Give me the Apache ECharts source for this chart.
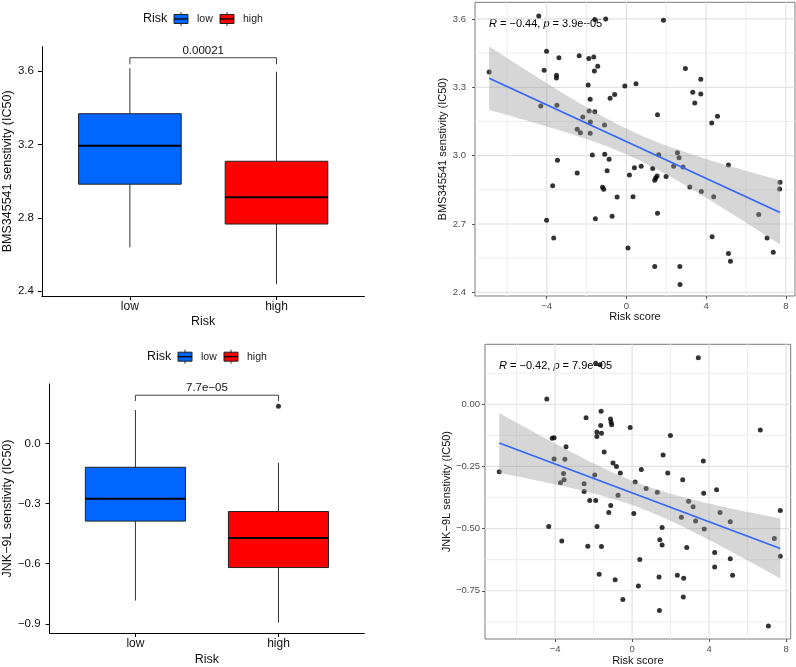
<!DOCTYPE html>
<html><head><meta charset="utf-8">
<script src="https://cdn.jsdelivr.net/npm/echarts@6/dist/echarts.min.js"></script>
<style>html,body{margin:0;padding:0;background:#fff}#c{width:796px;height:667px}</style>
</head><body><div id="c"></div>
<script>
// ---------------- DATA ----------------
const categories = ['low', 'high'];
const boxColors = ['#0066FF', '#FF0000'];
// [min, q1, median, q3, max]
const bmsBoxLow  = [2.639, 2.983, 3.193, 3.367, 3.615];
const bmsBoxHigh = [2.438, 2.766, 2.912, 3.108, 3.596];
const jnkBoxLow  = [-0.784, -0.387, -0.275, -0.118, 0.168];
const jnkBoxHigh = [-0.894, -0.619, -0.472, -0.339, -0.095];
const jnkHighOutliers = [0.187];
const pLabels = ['0.00021', '7.7e\u221205'];
const bracketBms = [3.672, 3.636];
const bracketJnk = [0.242, 0.213];

const bmsBoxTicks = [2.4, 2.8, 3.2, 3.6];
const jnkBoxTicks = [-0.9, -0.6, -0.3, 0.0];
const riskTicks = [-4, 0, 4, 8];
const riskMinor = [-6, -2, 2, 6];
const bmsScatterTicks = [2.4, 2.7, 3.0, 3.3, 3.6];
const bmsScatterMinor = [2.55, 2.85, 3.15, 3.45];
const jnkScatterTicks = [-0.75, -0.5, -0.25, 0];
const jnkScatterMinor = [-0.875, -0.625, -0.375, -0.125, 0.125];

const corrR = ['\u22120.44', '\u22120.42'];
const corrP = ['3.9e\u221205', '7.9e\u221205'];

const riskScore1 = [-6.89,-4.40,-4.30,-4.13,-4.01,-4.01,-3.70,-3.65,-3.51,-3.51,-3.49,-3.46,-3.39,-2.47,-2.47,-2.37,-2.31,-2.19,-1.92,-1.89,-1.87,-1.82,-1.81,-1.82,-1.71,-1.59,-1.64,-1.61,-1.59,-1.56,-1.44,-1.20,-1.14,-1.10,-1.09,-1.04,-0.97,-0.87,-0.82,-0.72,-0.59,-0.47,-0.08,0.08,0.15,0.33,0.40,0.48,0.74,1.32,1.42,1.42,1.47,1.54,1.56,1.56,1.62,1.86,1.99,2.37,2.56,2.64,2.68,2.69,2.84,2.96,3.18,3.33,3.43,3.73,3.73,3.76,4.28,4.30,4.38,4.57,5.12,5.12,5.22,6.64,7.06,7.37,7.71,7.69];
const bmsIC50 = [3.367,3.613,3.218,3.375,3.458,2.716,2.868,2.639,3.353,3.341,3.221,2.980,3.430,3.116,2.924,3.438,3.101,3.170,3.310,3.426,3.196,3.247,3.148,3.098,3.003,3.597,3.433,3.372,3.193,2.723,3.392,2.861,2.852,3.135,3.006,3.600,2.934,2.984,3.252,2.734,3.268,2.819,3.306,2.595,2.915,2.820,2.947,3.315,2.953,2.944,2.892,2.513,2.902,2.911,2.747,3.180,3.004,3.594,2.909,2.953,3.013,2.991,2.514,2.434,2.950,3.383,2.862,3.278,3.231,3.335,3.271,2.843,3.143,2.644,2.820,3.173,2.959,2.570,2.536,2.742,2.639,2.576,2.883,2.854];

const riskScore2 = [-6.90,-4.43,-4.33,-4.15,-4.05,-4.05,-3.65,-3.72,-3.56,-3.53,-3.49,-3.43,-2.49,-2.49,-2.39,-2.30,-2.20,-1.94,-1.89,-1.89,-1.83,-1.83,-1.82,-1.71,-1.66,-1.63,-1.61,-1.59,-1.59,-1.45,-1.21,-1.12,-1.11,-1.09,-1.06,-0.99,-0.88,-0.81,-0.73,-0.61,-0.48,-0.10,0.09,0.16,0.33,0.40,0.48,0.73,1.31,1.40,1.42,1.44,1.56,1.56,1.61,1.85,1.99,2.35,2.56,2.63,2.68,2.66,2.84,2.94,3.17,3.30,3.44,3.72,3.70,3.75,4.29,4.29,4.39,4.57,5.10,5.10,5.22,6.66,7.08,7.39,7.70,7.70];
const jnkIC50 = [-0.271,0.021,-0.492,-0.137,-0.135,-0.220,-0.550,-0.316,-0.279,-0.304,-0.221,-0.171,-0.320,-0.351,-0.054,-0.571,-0.387,-0.285,-0.387,0.165,-0.112,-0.130,-0.492,-0.684,0.159,-0.086,-0.028,-0.117,-0.572,-0.192,-0.435,-0.059,-0.407,-0.072,-0.082,-0.236,-0.706,-0.250,-0.366,-0.277,-0.785,-0.094,-0.439,-0.313,-0.731,-0.624,-0.262,-0.339,-0.354,-0.695,-0.829,-0.545,-0.566,-0.496,-0.204,-0.277,-0.126,-0.688,-0.454,-0.304,-0.700,-0.775,-0.576,-0.390,-0.412,-0.470,0.187,-0.358,-0.228,-0.502,-0.596,-0.654,-0.344,-0.435,-0.473,-0.621,-0.688,-0.104,-0.892,-0.540,-0.427,-0.611];

// ---------------- HELPERS ----------------
const FONT = '"Liberation Sans", Arial, Helvetica, sans-serif';
const MINUS = '\u2212';
const fmt = (v, d) => (v < -1e-9 ? MINUS : '') + Math.abs(v).toFixed(d);

function linFit(xs, ys) {
  const n = xs.length;
  const xbar = xs.reduce((a, b) => a + b, 0) / n;
  const ybar = ys.reduce((a, b) => a + b, 0) / n;
  let sxx = 0, sxy = 0;
  for (let i = 0; i < n; i++) { sxx += (xs[i] - xbar) ** 2; sxy += (xs[i] - xbar) * (ys[i] - ybar); }
  const b = sxy / sxx, a = ybar - b * xbar;
  let sse = 0;
  for (let i = 0; i < n; i++) sse += (ys[i] - a - b * xs[i]) ** 2;
  return { a, b, n, xbar, sxx, s: Math.sqrt(sse / (n - 2)), xmin: Math.min(...xs), xmax: Math.max(...xs) };
}
function confBand(f, steps) {
  const t = 1.99, out = [];
  for (let k = 0; k <= steps; k++) {
    const x = f.xmin + (f.xmax - f.xmin) * k / steps;
    const y = f.a + f.b * x;
    const se = f.s * Math.sqrt(1 / f.n + (x - f.xbar) ** 2 / f.sxx);
    out.push([x, y - t * se, y + t * se]);
  }
  return out;
}

function boxSeries(idx, low, high) {
  const data = [[1, ...low, 0], [2, ...high, 1]];
  return {
    type: 'custom', xAxisIndex: idx, yAxisIndex: idx, z: 3, silent: true, data,
    renderItem: (params, api) => {
      const x = api.value(0);
      const pMin = api.coord([x, api.value(1)]);
      const pQ1 = api.coord([x, api.value(2)]);
      const pMed = api.coord([x, api.value(3)]);
      const pQ3 = api.coord([x, api.value(4)]);
      const pMax = api.coord([x, api.value(5)]);
      const left = api.coord([x - 0.35, api.value(3)])[0];
      const right = api.coord([x + 0.35, api.value(3)])[0];
      const color = boxColors[api.value(6)];
      const ws = { stroke: '#333', lineWidth: 1 };
      return { type: 'group', children: [
        { type: 'line', shape: { x1: pMax[0], y1: pMax[1], x2: pQ3[0], y2: pQ3[1] }, style: ws },
        { type: 'line', shape: { x1: pQ1[0], y1: pQ1[1], x2: pMin[0], y2: pMin[1] }, style: ws },
        { type: 'rect', shape: { x: left, y: pQ3[1], width: right - left, height: pQ1[1] - pQ3[1] }, style: { fill: color, stroke: '#222', lineWidth: 1 } },
        { type: 'line', shape: { x1: left, y1: pMed[1], x2: right, y2: pMed[1] }, style: { stroke: '#000', lineWidth: 2 } }
      ]};
    }
  };
}

function bracketSeries(idx, yb, label) {
  return {
    type: 'custom', xAxisIndex: idx, yAxisIndex: idx, z: 3, silent: true,
    data: [[1, 2, yb[0], yb[1]]],
    renderItem: (params, api) => {
      const a = api.coord([api.value(0), api.value(2)]);
      const b = api.coord([api.value(1), api.value(2)]);
      const a2 = api.coord([api.value(0), api.value(3)]);
      const b2 = api.coord([api.value(1), api.value(3)]);
      return { type: 'group', children: [
        { type: 'polyline', shape: { points: [a2, a, b, b2] }, style: { stroke: '#444', lineWidth: 1, fill: null } },
        { type: 'text', x: (a[0] + b[0]) / 2, y: a[1] - 1, style: { text: label, fontSize: 11.5, fontFamily: FONT, fill: '#111', align: 'center', verticalAlign: 'bottom' } }
      ]};
    }
  };
}

function gridLineSeries(idx, xMaj, xMin, yMaj, yMin) {
  const data = [];
  xMin.forEach(v => data.push([0, v, 0]));
  yMin.forEach(v => data.push([1, v, 0]));
  xMaj.forEach(v => data.push([0, v, 1]));
  yMaj.forEach(v => data.push([1, v, 1]));
  return {
    type: 'custom', xAxisIndex: idx, yAxisIndex: idx, z: 1, silent: true, data,
    renderItem: (params, api) => {
      const cs = params.coordSys;
      const horiz = api.value(0) === 1;
      const v = api.value(1);
      const major = api.value(2) === 1;
      const p = api.coord([v, v]);
      const shape = horiz ? { x1: cs.x, y1: p[1], x2: cs.x + cs.width, y2: p[1] }
                          : { x1: p[0], y1: cs.y, x2: p[0], y2: cs.y + cs.height };
      return { type: 'line', shape, style: { stroke: major ? '#E2E2E2' : '#EDEDED', lineWidth: major ? 1.2 : 1 } };
    }
  };
}

function bandSeries(idx, pts) {
  return {
    type: 'custom', xAxisIndex: idx, yAxisIndex: idx, z: 3, silent: true,
    data: [[pts[0][0], pts[0][1]]],
    renderItem: (params, api) => {
      const poly = [];
      pts.forEach(p => poly.push(api.coord([p[0], p[2]])));
      for (let i = pts.length - 1; i >= 0; i--) poly.push(api.coord([pts[i][0], pts[i][1]]));
      return { type: 'polygon', shape: { points: poly }, style: { fill: 'rgba(153,153,153,0.4)' } };
    }
  };
}

function scatterSet(idx, xs, ys) {
  const f = linFit(xs, ys);
  return [
    { type: 'scatter', xAxisIndex: idx, yAxisIndex: idx, z: 2, silent: true, symbolSize: 5,
      itemStyle: { color: '#000' }, data: xs.map((x, i) => [x, ys[i]]) },
    bandSeries(idx, confBand(f, 80)),
    { type: 'line', xAxisIndex: idx, yAxisIndex: idx, z: 4, silent: true, showSymbol: false, symbol: 'none',
      lineStyle: { color: '#3366FF', width: 1.7 },
      data: [[f.xmin, f.a + f.b * f.xmin], [f.xmax, f.a + f.b * f.xmax]] }
  ];
}

// axis builders
function boxXAxis(idx, gap) {
  return { type: 'value', gridIndex: idx, min: 0.4, max: 2.6,
    axisLine: { show: true, onZero: false, lineStyle: { color: '#000', width: 1 } },
    axisTick: { show: true, length: 4, customValues: [1, 2], lineStyle: { color: '#000' } },
    axisLabel: { customValues: [1, 2], formatter: v => categories[Math.round(v) - 1], fontSize: 12, fontFamily: FONT, color: '#111', margin: 5 },
    splitLine: { show: false },
    name: 'Risk', nameLocation: 'middle', nameGap: gap, nameTextStyle: { fontSize: 12.5, fontFamily: FONT, color: '#111' } };
}
function boxYAxis(idx, min, max, ticks, dec, name, gap, margin) {
  return { type: 'value', gridIndex: idx, min, max,
    axisLine: { show: true, onZero: false, lineStyle: { color: '#000', width: 1 } },
    axisTick: { show: true, length: 4, customValues: ticks, lineStyle: { color: '#000' } },
    axisLabel: { customValues: ticks, formatter: v => fmt(v, dec), fontSize: 11.5, fontFamily: FONT, color: '#111', margin },
    splitLine: { show: false },
    name, nameLocation: 'middle', nameGap: gap, nameTextStyle: { fontSize: 12.5, fontFamily: FONT, color: '#111' } };
}
function scXAxis(idx, min, max, gap) {
  return { type: 'value', gridIndex: idx, min, max,
    axisLine: { show: false, onZero: false },
    axisTick: { show: true, length: 3, customValues: riskTicks, lineStyle: { color: '#555' } },
    axisLabel: { customValues: riskTicks, formatter: v => fmt(v, 0), fontSize: 9.5, fontFamily: FONT, color: '#4D4D4D', margin: 5 },
    splitLine: { show: false },
    name: 'Risk score', nameLocation: 'middle', nameGap: gap, nameTextStyle: { fontSize: 11, fontFamily: FONT, color: '#111' } };
}
function scYAxis(idx, min, max, ticks, dec, name, gap, margin) {
  return { type: 'value', gridIndex: idx, min, max,
    axisLine: { show: false, onZero: false },
    axisTick: { show: true, length: 3, customValues: ticks, lineStyle: { color: '#555' } },
    axisLabel: { customValues: ticks, formatter: v => fmt(v, dec), fontSize: 9.5, fontFamily: FONT, color: '#4D4D4D', margin },
    splitLine: { show: false },
    name, nameLocation: 'middle', nameGap: gap, nameTextStyle: { fontSize: 11, fontFamily: FONT, color: '#111' } };
}

// legend (decoration)
function legendEls(x0, yc) {
  const els = [{ type: 'text', x: x0, y: yc, style: { text: 'Risk', fontSize: 12.5, fontFamily: FONT, fill: '#111', verticalAlign: 'middle' } }];
  const keys = [[x0 + 31, x0 + 54], [x0 + 77, x0 + 100]];
  keys.forEach((k, i) => {
    const kx = k[0], cx = kx + 7;
    els.push({ type: 'line', shape: { x1: cx, y1: yc - 7, x2: cx, y2: yc + 7 }, style: { stroke: '#333', lineWidth: 1 } });
    els.push({ type: 'rect', shape: { x: kx, y: yc - 4.5, width: 14, height: 9 }, style: { fill: boxColors[i], stroke: '#222', lineWidth: 1 } });
    els.push({ type: 'line', shape: { x1: kx, y1: yc, x2: kx + 14, y2: yc }, style: { stroke: '#000', lineWidth: 1.3 } });
    els.push({ type: 'text', x: k[1], y: yc, style: { text: categories[i], fontSize: 10.5, fontFamily: FONT, fill: '#222', verticalAlign: 'middle' } });
  });
  return els;
}
function corrText(x, y, i) {
  return { type: 'text', x, y, style: {
    text: '{i|R} = ' + corrR[i] + ', {i|p} = ' + corrP[i],
    rich: { i: { fontStyle: 'italic', fontSize: 11, fontFamily: FONT, fill: '#000' } },
    fontSize: 11, fontFamily: FONT, fill: '#000', verticalAlign: 'middle' } };
}

// ---------------- OPTION ----------------
const chart = echarts.init(document.getElementById('c'));
const option = {
  animation: false,
  backgroundColor: '#fff',
  grid: [
    { left: 40, top: 46.7, width: 324.5, height: 249.3 },
    { left: 475, top: 2.3, width: 320, height: 293.7, show: true, borderColor: '#7a7a7a', borderWidth: 1, backgroundColor: '#fff' },
    { left: 47.7, top: 384, width: 316.6, height: 249.3 },
    { left: 485, top: 344.3, width: 305.7, height: 295, show: true, borderColor: '#7a7a7a', borderWidth: 1, backgroundColor: '#fff' }
  ],
  xAxis: [
    boxXAxis(0, 19.5),
    scXAxis(1, -7.60, 8.46, 15.5),
    boxXAxis(2, 20),
    scXAxis(3, -7.64, 8.24, 16)
  ],
  yAxis: [
    boxYAxis(0, 2.374, 3.732, bmsBoxTicks, 1, 'BMS345541 senstivity (IC50)', 25.5, 8),
    scYAxis(1, 2.384, 3.673, bmsScatterTicks, 1, 'BMS345541 senstivity (IC50)', 20.5, 9),
    boxYAxis(2, -0.946, 0.298, jnkBoxTicks, 1, 'JNK\u22129L senstivity (IC50)', 33, 9),
    scYAxis(3, -0.944, 0.241, jnkScatterTicks, 2, 'JNK\u22129L senstivity (IC50)', 29.5, 5)
  ],
  series: [
    boxSeries(0, bmsBoxLow, bmsBoxHigh),
    bracketSeries(0, bracketBms, pLabels[0]),
    boxSeries(2, jnkBoxLow, jnkBoxHigh),
    bracketSeries(2, bracketJnk, pLabels[1]),
    { type: 'scatter', xAxisIndex: 2, yAxisIndex: 2, z: 3, silent: true, symbolSize: 5, itemStyle: { color: '#000' },
      data: jnkHighOutliers.map(v => [2, v]) },
    gridLineSeries(1, riskTicks, riskMinor, bmsScatterTicks, bmsScatterMinor),
    ...scatterSet(1, riskScore1, bmsIC50),
    gridLineSeries(3, riskTicks, riskMinor, jnkScatterTicks, jnkScatterMinor),
    ...scatterSet(3, riskScore2, jnkIC50)
  ],
  graphic: [
    ...legendEls(143, 19),
    ...legendEls(147, 356.7),
    corrText(489, 24, 0),
    corrText(499, 366, 1)
  ]
};
chart.setOption(option);
</script>
</body></html>
